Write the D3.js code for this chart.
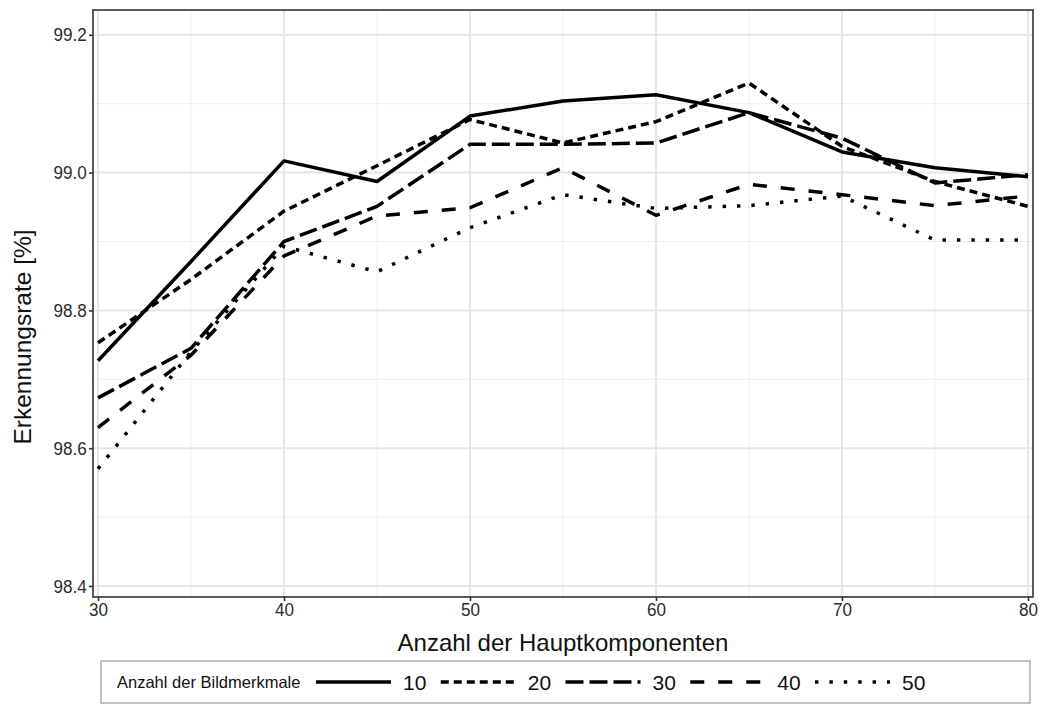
<!DOCTYPE html>
<html>
<head>
<meta charset="utf-8">
<script src="https://cdn.jsdelivr.net/npm/d3@7"></script>
<style>
  html, body { margin: 0; padding: 0; background: #fff; }
  text { font-family: "Liberation Sans", Arial, sans-serif; }
</style>
</head>
<body>
<svg id="chart" width="1043" height="720"></svg>
<script>
// ---- Data ----
const components = [30, 35, 40, 45, 50, 55, 60, 65, 70, 75, 80];
const featureCounts = ["10", "20", "30", "40", "50"];
const rate10 = [98.727, 98.871, 99.017, 98.987, 99.082, 99.104, 99.113, 99.087, 99.030, 99.007, 98.994];
const rate20 = [98.753, 98.845, 98.944, 99.010, 99.077, 99.043, 99.074, 99.130, 99.038, 98.987, 98.951];
const rate30 = [98.673, 98.745, 98.900, 98.951, 99.041, 99.041, 99.043, 99.087, 99.050, 98.985, 98.997];
const rate40 = [98.630, 98.735, 98.879, 98.937, 98.949, 99.007, 98.938, 98.983, 98.968, 98.952, 98.966];
const rate50 = [98.570, 98.740, 98.893, 98.856, 98.920, 98.968, 98.948, 98.952, 98.966, 98.902, 98.902];
const xTicks = [30, 40, 50, 60, 70, 80];
const xMinor = [35, 45, 55, 65, 75];
const yTicks = [98.4, 98.6, 98.8, 99.0, 99.2];
const yMinor = [98.5, 98.7, 98.9, 99.1];
const xTitle = "Anzahl der Hauptkomponenten";
const yTitle = "Erkennungsrate [%]";
const legendTitle = "Anzahl der Bildmerkmale";

const seriesValues = [rate10, rate20, rate30, rate40, rate50];
const dashes = [null, "8,5", "18,6", "14,14", "3.4,11"];

// ---- Layout ----
const svg = d3.select("#chart");
const P = { left: 93, right: 1033, top: 10, bottom: 597 };
const x = d3.scaleLinear().domain([29.73, 80.27]).range([P.left, P.right]);
const y = d3.scaleLinear().domain([98.384, 99.236]).range([P.bottom, P.top]);

const grid = svg.append("g");
grid.selectAll(".ymin").data(yMinor).enter().append("line")
  .attr("x1", P.left).attr("x2", P.right)
  .attr("y1", d => y(d)).attr("y2", d => y(d))
  .attr("stroke", "#eeeeee").attr("stroke-width", 1);
grid.selectAll(".xmin").data(xMinor).enter().append("line")
  .attr("y1", P.top).attr("y2", P.bottom)
  .attr("x1", d => x(d)).attr("x2", d => x(d))
  .attr("stroke", "#eeeeee").attr("stroke-width", 1);
grid.selectAll(".ymaj").data(yTicks).enter().append("line")
  .attr("x1", P.left).attr("x2", P.right)
  .attr("y1", d => y(d)).attr("y2", d => y(d))
  .attr("stroke", "#e6e6e6").attr("stroke-width", 2);
grid.selectAll(".xmaj").data(xTicks).enter().append("line")
  .attr("y1", P.top).attr("y2", P.bottom)
  .attr("x1", d => x(d)).attr("x2", d => x(d))
  .attr("stroke", "#e6e6e6").attr("stroke-width", 2);

// ---- Lines ----
const line = d3.line().x((d, i) => x(components[i])).y(d => y(d));
const clip = svg.append("clipPath").attr("id", "clip").append("rect")
  .attr("x", P.left).attr("y", P.top).attr("width", P.right - P.left).attr("height", P.bottom - P.top);
const lines = svg.append("g").attr("clip-path", "url(#clip)");
seriesValues.forEach((vals, k) => {
  lines.append("path").datum(vals)
    .attr("d", line)
    .attr("fill", "none")
    .attr("stroke", "#000")
    .attr("stroke-width", 3.5)
    .attr("stroke-linejoin", "round")
    .attr("stroke-dasharray", dashes[k]);
});

// ---- Panel border ----
svg.append("rect").attr("x", P.left).attr("y", P.top)
  .attr("width", P.right - P.left).attr("height", P.bottom - P.top)
  .attr("fill", "none").attr("stroke", "#333").attr("stroke-width", 1.6);

// ---- Axes ----
const yAxis = svg.append("g").attr("transform", `translate(${P.left},0)`)
  .call(d3.axisLeft(y).tickValues(yTicks).tickSize(4).tickPadding(3).tickFormat(d3.format(".1f")));
const xAxis = svg.append("g").attr("transform", `translate(0,${P.bottom})`)
  .call(d3.axisBottom(x).tickValues(xTicks).tickSize(4).tickPadding(2).tickFormat(d3.format("d")));
[yAxis, xAxis].forEach(a => {
  a.select(".domain").remove();
  a.selectAll(".tick line").attr("stroke", "#333").attr("stroke-width", 1.6);
  a.selectAll(".tick text").attr("fill", "#2b2b2b").style("font-size", "19px")
    .style("font-family", "'Liberation Sans', Arial, sans-serif");
});
yAxis.selectAll(".tick text").attr("transform", "scale(0.9,1)");
xAxis.selectAll(".tick text").attr("transform", "scale(0.9,1)");

// ---- Titles ----
svg.append("text").attr("x", (P.left + P.right) / 2).attr("y", 651)
  .attr("text-anchor", "middle").style("font-size", "24px").attr("fill", "#111").text(xTitle);
svg.append("text").attr("transform", `translate(31,337) rotate(-90)`)
  .attr("text-anchor", "middle").style("font-size", "24.5px").attr("fill", "#111").text(yTitle);

// ---- Legend ----
const L = { x: 101, y: 661, w: 929, h: 42 };
const lg = svg.append("g");
lg.append("rect").attr("x", L.x).attr("y", L.y).attr("width", L.w).attr("height", L.h)
  .attr("fill", "#fff").attr("stroke", "#999").attr("stroke-width", 1.2);
const cy = L.y + L.h / 2;
lg.append("text").attr("x", 117).attr("y", cy + 6).style("font-size", "16.5px").attr("fill", "#111").text(legendTitle);
const keyX = d3.scalePoint().domain(featureCounts).range([316, 815]);
featureCounts.forEach((lab, k) => {
  const x0 = keyX(lab);
  lg.append("line").attr("x1", x0).attr("x2", x0 + 75).attr("y1", cy).attr("y2", cy)
    .attr("stroke", "#000").attr("stroke-width", 3.5).attr("stroke-dasharray", dashes[k]);
  lg.append("text").attr("x", x0 + 87).attr("y", cy + 7.5).style("font-size", "21px").attr("fill", "#111").text(lab);
});
</script>
</body>
</html>
